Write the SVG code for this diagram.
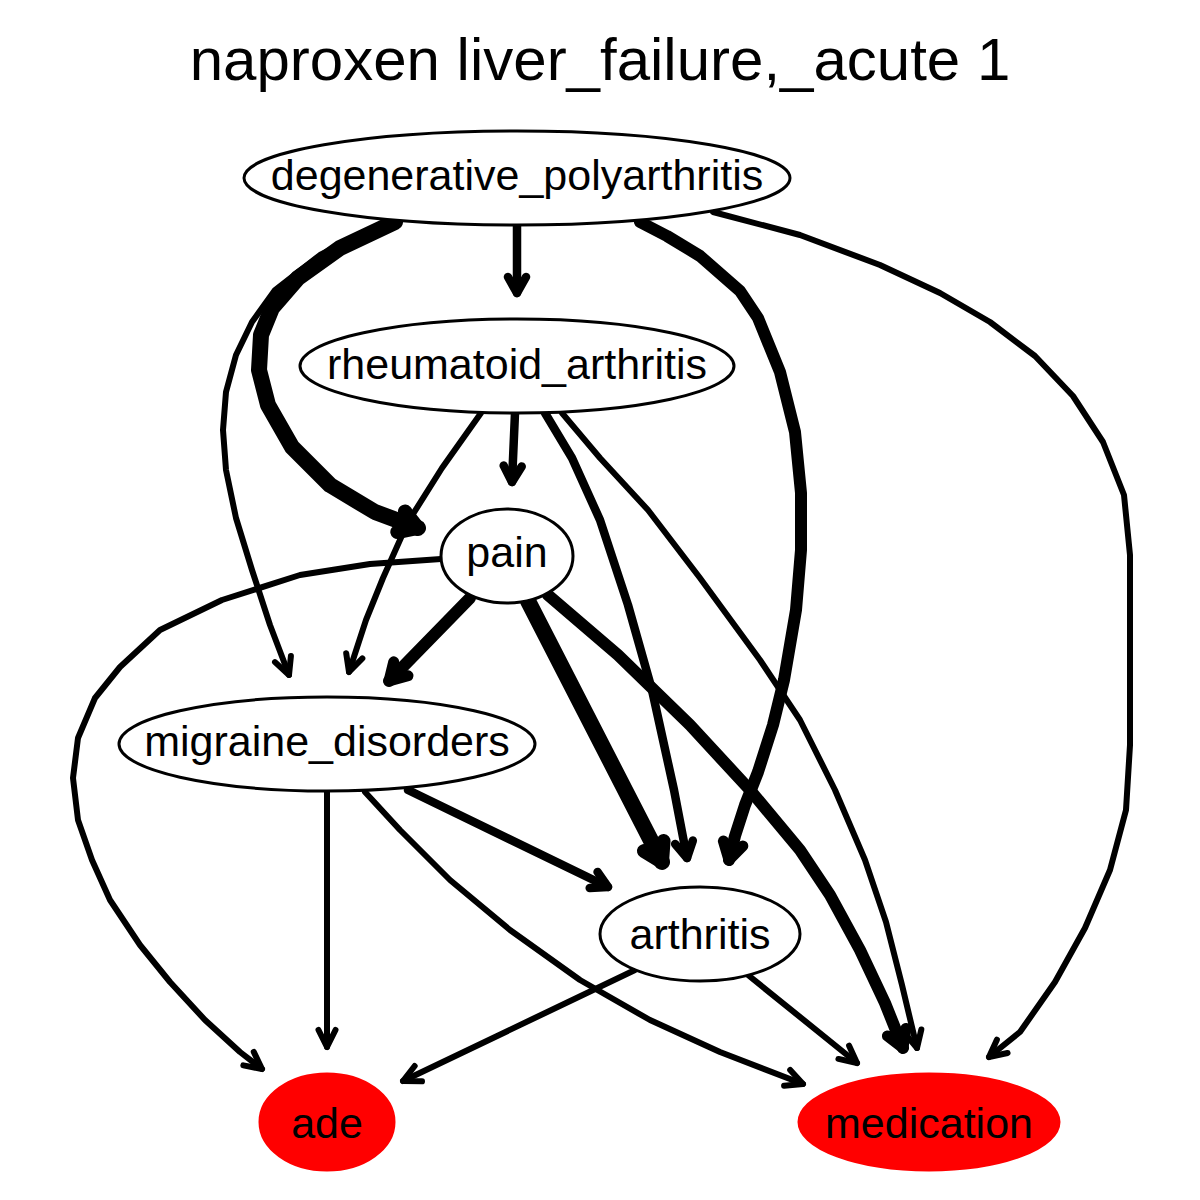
<svg xmlns="http://www.w3.org/2000/svg" width="1200" height="1200" viewBox="0 0 1200 1200">
<style>
.node ellipse{fill:#ffffff;stroke:#000000;stroke-width:3}
.node.red ellipse{fill:#ff0000;stroke:#ff0000}
.node text{font-family:"Liberation Sans",Arial,sans-serif;font-size:43px;text-anchor:middle;fill:#000000}
.title{font-family:"Liberation Sans",Arial,sans-serif;font-size:60px;text-anchor:middle;fill:#000000}
.e{fill:none;stroke:#000000;stroke-linecap:round;stroke-linejoin:round}
.w4{stroke-width:6;marker-end:url(#a4)}
.w6{stroke-width:8.5;marker-end:url(#a6)}
.w10{stroke-width:12;marker-end:url(#a10)}
.w14{stroke-width:16;marker-end:url(#a14)}
</style>
<defs>
<marker id="a4" markerUnits="userSpaceOnUse" orient="auto" markerWidth="40" markerHeight="40" refX="0" refY="0" viewBox="-30 -20 40 40" overflow="visible">
<path d="M-17,-8.5 L0,0 L-17,8.5" fill="none" stroke="#000" stroke-width="6" stroke-linecap="round" stroke-linejoin="round"/>
</marker>
<marker id="a6" markerUnits="userSpaceOnUse" orient="auto" markerWidth="40" markerHeight="40" refX="0" refY="0" viewBox="-30 -20 40 40" overflow="visible">
<path d="M-16,-9 L0,0 L-16,9" fill="none" stroke="#000" stroke-width="8.5" stroke-linecap="round" stroke-linejoin="round"/>
</marker>
<marker id="a10" markerUnits="userSpaceOnUse" orient="auto" markerWidth="40" markerHeight="40" refX="0" refY="0" viewBox="-30 -20 40 40" overflow="visible">
<path d="M-17,-10 L0,0 L-17,10" fill="none" stroke="#000" stroke-width="11" stroke-linecap="round" stroke-linejoin="round"/>
</marker>
<marker id="a14" markerUnits="userSpaceOnUse" orient="auto" markerWidth="40" markerHeight="40" refX="0" refY="0" viewBox="-30 -20 40 40" overflow="visible">
<path d="M-18,-11 L0,0 L-18,11" fill="none" stroke="#000" stroke-width="14" stroke-linecap="round" stroke-linejoin="round"/>
</marker>
</defs>
<rect x="0" y="0" width="1200" height="1200" fill="#ffffff"/>
<text class="title" x="600" y="80">naproxen liver_failure,_acute 1</text>
<g id="connectors">
<path id="e_degen_rheum" class="e w6" d="M517,225 L517,293"/>
<path id="e_degen_pain" class="e w14" d="M395,222 L340,248 L298,278 L272,308 L261,335 L259,370 L268,405 L292,447 L330,485 L375,512 L418,528"/>
<path id="e_degen_migraine" class="e w4" d="M380,225 L320,255 L275,290 L252,322 L236,355 L226,392 L223,430 L226,470 L236,518 L252,570 L270,625 L289,675"/>
<path id="e_degen_arthritis" class="e w10" d="M640,222 L667,236 L700,256 L740,291 L758,318 L780,372 L795,432 L801,493 L801,550 L796,610 L784,680 L773,725 L758,772 L745,805 L735,836 L729,860"/>
<path id="e_degen_medication" class="e w4" d="M713,212 L800,235 L880,265 L940,293 L990,322 L1035,356 L1073,396 L1103,442 L1124,495 L1130,555 L1130,745 L1126,810 L1110,870 L1085,928 L1055,982 L1020,1032 L989,1057"/>
<path id="e_rheum_pain" class="e w6" d="M515,413 L512,482"/>
<path id="e_rheum_migraine" class="e w4" d="M481,413 L442,468 L408,522 L383,578 L366,620 L349,672"/>
<path id="e_rheum_arthritis" class="e w6" d="M545,413 L572,458 L600,520 L628,605 L652,690 L674,790 L687,858"/>
<path id="e_rheum_medication" class="e w4" d="M562,413 L600,458 L648,510 L700,578 L760,660 L800,720 L835,790 L865,860 L886,922 L902,985 L917,1048"/>
<path id="e_pain_migraine" class="e w10" d="M470,598 L389,681"/>
<path id="e_pain_arthritis" class="e w14" d="M528,601 L662,862"/>
<path id="e_pain_medication" class="e w10" d="M548,595 L618,655 L690,725 L750,790 L800,850 L830,895 L860,950 L885,1003 L903,1048"/>
<path id="e_pain_ade" class="e w4" d="M441,559 L370,564 L300,575 L222,600 L160,630 L120,667 L95,698 L78,738 L73,778 L78,820 L92,860 L110,900 L140,945 L170,982 L205,1020 L240,1052 L262,1069"/>
<path id="e_migraine_ade" class="e w4" d="M327,792 L327,1047"/>
<path id="e_migraine_arthritis" class="e w6" d="M408,790 L608,887"/>
<path id="e_migraine_medication" class="e w4" d="M365,792 L400,830 L450,880 L510,930 L580,980 L650,1020 L720,1052 L803,1084"/>
<path id="e_arthritis_ade" class="e w4" d="M635,970 L403,1081"/>
<path id="e_arthritis_medication" class="e w4" d="M748,975 L857,1063"/>
</g>
<g id="n_degenerative_polyarthritis" class="node">
<ellipse cx="517" cy="178" rx="273" ry="47"/>
<text x="517" y="190">degenerative_polyarthritis</text>
</g>
<g id="n_rheumatoid_arthritis" class="node">
<ellipse cx="517" cy="366" rx="217" ry="47"/>
<text x="517" y="379">rheumatoid_arthritis</text>
</g>
<g id="n_pain" class="node">
<ellipse cx="507" cy="556" rx="66" ry="47"/>
<text x="507" y="567">pain</text>
</g>
<g id="n_migraine_disorders" class="node">
<ellipse cx="327" cy="744" rx="208" ry="47"/>
<text x="327" y="756">migraine_disorders</text>
</g>
<g id="n_arthritis" class="node">
<ellipse cx="700" cy="934" rx="100" ry="47"/>
<text x="700" y="949">arthritis</text>
</g>
<g id="n_ade" class="node red">
<ellipse cx="327" cy="1122" rx="67" ry="48"/>
<text x="327" y="1138">ade</text>
</g>
<g id="n_medication" class="node red">
<ellipse cx="929" cy="1122" rx="130" ry="48"/>
<text x="929" y="1138">medication</text>
</g>
</svg>
